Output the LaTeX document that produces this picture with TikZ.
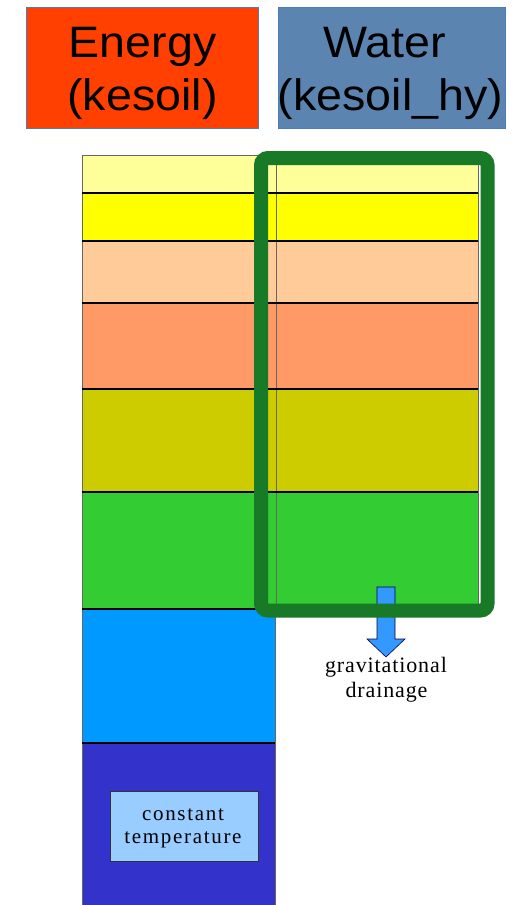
\documentclass[tikz,border=0pt]{standalone}
\usepackage{fontspec}
\setmainfont{Liberation Serif}
\newfontfamily\hdrfont{Liberation Sans}
\definecolor{cA}{HTML}{FFFF99}
\definecolor{cB}{HTML}{FFFF00}
\definecolor{cC}{HTML}{FFCC99}
\definecolor{cD}{HTML}{FF9966}
\definecolor{cE}{HTML}{CCCC00}
\definecolor{cF}{HTML}{33CC33}
\definecolor{cG}{HTML}{0099FF}
\definecolor{cH}{HTML}{3333CC}
\definecolor{energyfill}{HTML}{FF4000}
\definecolor{waterfill}{HTML}{5B84B1}
\definecolor{hdrborder}{HTML}{4A7EBB}
\definecolor{framegreen}{HTML}{187A26}
\definecolor{arrowblue}{HTML}{3399FF}
\definecolor{tempbox}{HTML}{99CCFF}
\tikzset{
  hdrbox/.style={draw=hdrborder, line width=0.8pt, inner sep=0pt},
  hdrtext/.style={anchor=base, inner sep=0pt, font=\hdrfont\fontsize{44}{50}\selectfont},
  sep/.style={draw=black, line width=1.6pt},
  edge/.style={draw=black!60, line width=0.8pt},
  smalltext/.style={anchor=base, inner sep=0pt, font=\addfontfeatures{LetterSpace=4}\fontsize{22}{25}\selectfont},
}
\begin{document}
\begin{tikzpicture}[x=1pt,y=-1pt]
\useasboundingbox (0,0) rectangle (529,905);
% header boxes
\node[hdrbox, fill=energyfill, minimum width=232pt, minimum height=121pt] (energy) at (142.5,67.5) {};
\node[hdrbox, fill=waterfill, minimum width=227pt, minimum height=121pt] (water) at (391.5,67.5) {};
\node[hdrtext] (e1) at (142.5,57) {\scalebox{1.06}[1]{Energy}};
\node[hdrtext] (e2) at (142.5,110) {\scalebox{1.06}[1]{(kesoil)}};
\node[hdrtext] (w1) at (385,57) {\scalebox{1.06}[1]{Water}};
\node[hdrtext] (w2) at (390.5,110) {\scalebox{1.06}[1]{(kesoil\_hy)}};
% soil layers
\fill[cA] (82,155) rectangle (478,193);
\fill[cB] (82,193) rectangle (478,241);
\fill[cC] (82,241) rectangle (478,303);
\fill[cD] (82,303) rectangle (478,389);
\fill[cE] (82,389) rectangle (478,492);
\fill[cF] (82,492) rectangle (478,609);
\fill[cG] (82,609) rectangle (275,743);
\fill[cH] (82,743) rectangle (275,905);
% outlines
\draw[edge] (82,155) -- (478,155);
\draw[edge] (82,155) -- (82,905);
\draw[edge] (275,609) -- (275,905);
\draw[edge] (276,155) -- (276,609);
\draw[edge] (478,155) -- (478,609);
\draw[sep] (82,193) -- (478,193);
\draw[sep] (82,241) -- (478,241);
\draw[sep] (82,303) -- (478,303);
\draw[sep] (82,389) -- (478,389);
\draw[sep] (82,492) -- (478,492);
\draw[sep] (82,609) -- (478,609);
\draw[sep] (82,743) -- (275,743);
% drainage arrow
\draw[fill=arrowblue, draw=black!70!blue, line width=0.6pt]
  (377,587) -- (395,587) -- (395,639) -- (405,639) -- (386,657) -- (367,639) -- (377,639) -- cycle;
% green frame
\draw[framegreen, line width=14pt, rounded corners=7pt] (261,158) rectangle (487.5,610.5);
% texts
\node[smalltext] (g1) at (386,672) {gravitational};
\node[smalltext] (g2) at (386.5,697) {drainage};
\node[draw=black!80, line width=0.9pt, fill=tempbox, minimum width=148pt, minimum height=70pt, inner sep=0pt] (temp) at (184,826) {};
\node[smalltext, font=\addfontfeatures{LetterSpace=8}\fontsize{21}{23}\selectfont] (t1) at (183,820) {constant};
\node[smalltext, font=\addfontfeatures{LetterSpace=8}\fontsize{21}{23}\selectfont] (t2) at (183,843) {temperature};
\end{tikzpicture}
\end{document}
